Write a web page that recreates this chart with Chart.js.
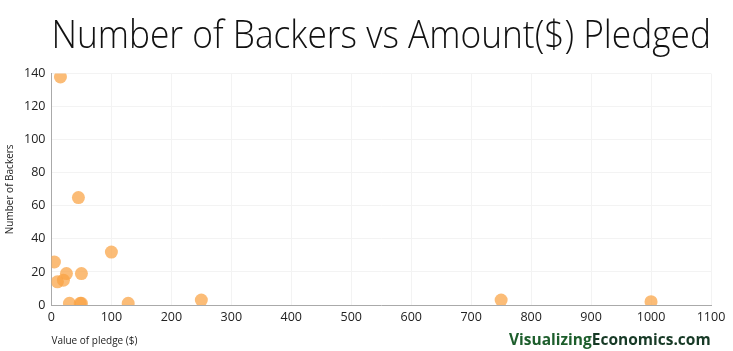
<!DOCTYPE html>
<html>
<head>
<meta charset="utf-8">
<script src="https://cdn.jsdelivr.net/npm/chart.js@4.4.1/dist/chart.umd.min.js"></script>
<style>
  html, body { margin: 0; padding: 0; background: #fff; }
  #wrap { width: 733px; height: 351px; position: relative; }
</style>
</head>
<body>
<div id="wrap"><canvas id="myChart" width="733" height="351"></canvas></div>
<script>
// pledge values ($) and number of backers
const pledgeValues = [5, 10, 15, 20, 25, 30, 45, 48, 50, 50, 100, 128, 250, 750, 1000];
const backerCounts = [26, 14, 138, 15, 19, 1, 65, 1, 1, 19, 32, 1, 3, 3, 2];
const xTicks = [0, 100, 200, 300, 400, 500, 600, 700, 800, 900, 1000, 1100];
const yTicks = [0, 20, 40, 60, 80, 100, 120, 140];

const chartTitle = "Number of Backers vs Amount($) Pledged";
const xTitle = "Value of pledge ($)";
const yTitle = "Number of Backers";

let points = pledgeValues.map((v, i) => ({ x: v, y: backerCounts[i] }));

// watermark in the bottom right corner
const watermark = {
  id: "watermark",
  afterDraw(chart) {
    const ctx = chart.ctx;
    ctx.save();
    ctx.font = "bold 15.5px 'Open Sans', sans-serif";
    ctx.textBaseline = "alphabetic";
    let x = 509;
    let y = 345;
    ctx.fillStyle = "#1d5e2c";
    ctx.fillText("Visualizing", x, y);
    x += ctx.measureText("Visualizing").width;
    ctx.fillStyle = "#173a26";
    ctx.fillText("Economics.com", x, y);
    ctx.restore();
  }
};

const tickFont = { family: "'Open Sans', sans-serif", size: 12.5 };

const ctx = document.getElementById("myChart").getContext("2d");
new Chart(ctx, {
  type: "scatter",
  data: {
    datasets: [{
      data: points,
      backgroundColor: "rgba(249, 162, 66, 0.72)",
      borderWidth: 0,
      pointRadius: 6.5,
      pointHoverRadius: 6.5
    }]
  },
  options: {
    responsive: false,
    animation: false,
    layout: { padding: { left: 0, right: 22, top: 0, bottom: 0 } },
    plugins: {
      legend: { display: false },
      tooltip: { enabled: false },
      title: {
        display: true,
        text: chartTitle,
        fullSize: false,
        color: "#111",
        font: { family: "'Open Sans', sans-serif", size: 38, weight: 300 },
        padding: { top: 14, bottom: 14 }
      }
    },
    scales: {
      x: {
        type: "linear",
        min: 0,
        max: 1100,
        afterBuildTicks: (axis) => { axis.ticks = xTicks.map(v => ({ value: v })); },
        grid: { color: "#f3f3f3", drawTicks: false },
        border: { color: "#aaa" },
        ticks: { color: "#222", padding: 5, font: tickFont, callback: (v) => String(v) },
        title: {
          display: true,
          text: xTitle,
          align: "start",
          color: "#222",
          font: { family: "'Open Sans', sans-serif", size: 10 },
          padding: { top: 5, bottom: 4 }
        }
      },
      y: {
        type: "linear",
        min: 0,
        max: 140,
        afterBuildTicks: (axis) => { axis.ticks = yTicks.map(v => ({ value: v })); },
        grid: { color: "#f3f3f3", drawTicks: false },
        border: { color: "#aaa" },
        ticks: { color: "#222", padding: 6, font: tickFont, callback: (v) => String(v) },
        title: {
          display: true,
          text: yTitle,
          color: "#222",
          font: { family: "'Open Sans', sans-serif", size: 10 },
          padding: { bottom: 2 }
        }
      }
    }
  },
  plugins: [watermark]
});
</script>
</body>
</html>
